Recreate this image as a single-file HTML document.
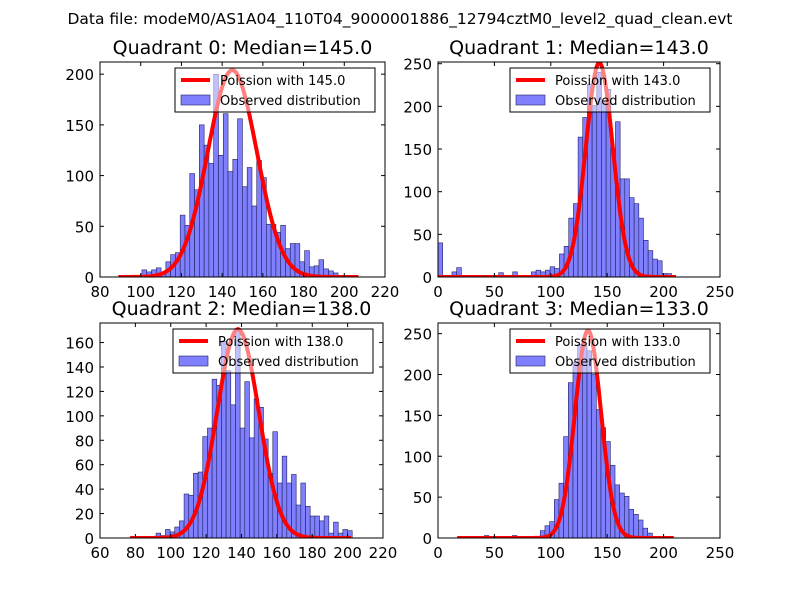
<!DOCTYPE html>
<html><head><meta charset="utf-8"><style>
body{margin:0;background:#fff;}
svg{display:block;font-family:"DejaVu Sans","Liberation Sans",sans-serif;}
</style></head><body>
<svg id="fig" width="800" height="600" xmlns="http://www.w3.org/2000/svg">
<rect width="800" height="600" fill="#fff"/>
<text x="400" y="24" text-anchor="middle" font-size="15.5">Data file: modeM0/AS1A04_110T04_9000001886_12794cztM0_level2_quad_clean.evt</text>
</svg>
<script>
// Quadrant 0 data
const q0Counts = [7,5,7,9,4,15,22,24,61,51,102,86,150,130,112,200,120,161,104,116,156,89,108,70,115,98,52,52,44,51,28,33,33,15,26,10,11,17,8,6,4,1];
const q0Start = 100.6, q0Width = 2.35, q0Median = 145.0, q0Peak = 204, q0CurveRange = [89, 207];
// Quadrant 1 data
const q1Counts = [40,2,2,6,11,0,0,0,2,0,0,0,0,5,2,0,6,0,0,0,6,8,6,8,12,10,27,36,69,86,164,187,226,201,240,204,220,150,182,115,115,93,86,69,43,31,21,19,4,4];
const q1Start = 0, q1Width = 4.14, q1Median = 143.0, q1Peak = 251, q1CurveRange = [0, 211];
// Quadrant 2 data
const q2Counts = [4,2,7,5,9,14,36,35,53,54,83,90,130,125,161,137,109,170,90,128,82,114,107,81,53,87,45,67,45,52,27,45,26,18,18,14,18,4,13,4,7,6];
const q2Start = 91.7, q2Width = 2.64, q2Median = 138.0, q2Peak = 171, q2CurveRange = [77, 202];
// Quadrant 3 data
const q3Counts = [3,0,0,0,1,0,3,0,0,0,1,0,9,15,20,47,67,124,190,215,237,235,229,200,157,135,118,89,65,55,51,35,29,22,12,6];
const q3Start = 41, q3Width = 4.14, q3Median = 133.0, q3Peak = 254, q3CurveRange = [17, 209];

const q0XTicks=[80,100,120,140,160,180,200,220], q0YTicks=[0,50,100,150,200];
const q1XTicks=[0,50,100,150,200,250], q1YTicks=[0,50,100,150,200,250];
const q2XTicks=[60,80,100,120,140,160,180,200,220], q2YTicks=[0,20,40,60,80,100,120,140,160];
const q3XTicks=[0,50,100,150,200,250], q3YTicks=[0,50,100,150,200,250];

const NS="http://www.w3.org/2000/svg";
const svg=document.getElementById('fig');
function mk(tag,attrs,parent){const e=document.createElementNS(NS,tag);for(const k in attrs)e.setAttribute(k,attrs[k]);(parent||svg).appendChild(e);return e;}

const panels=[
 {id:0,box:[100,62,385,277],xr:[80,220],yr:[0,212],counts:q0Counts,start:q0Start,w:q0Width,med:q0Median,peak:q0Peak,cr:q0CurveRange,xt:q0XTicks,yt:q0YTicks},
 {id:1,box:[438,62,720,277],xr:[0,250],yr:[0,252],counts:q1Counts,start:q1Start,w:q1Width,med:q1Median,peak:q1Peak,cr:q1CurveRange,xt:q1XTicks,yt:q1YTicks},
 {id:2,box:[100,323,383,538],xr:[60,220],yr:[0,176],counts:q2Counts,start:q2Start,w:q2Width,med:q2Median,peak:q2Peak,cr:q2CurveRange,xt:q2XTicks,yt:q2YTicks},
 {id:3,box:[438,323,720,538],xr:[0,250],yr:[0,263],counts:q3Counts,start:q3Start,w:q3Width,med:q3Median,peak:q3Peak,cr:q3CurveRange,xt:q3XTicks,yt:q3YTicks}
];

panels.forEach(p=>{
  const [L,T,R,B]=p.box;
  const sx=v=>L+(v-p.xr[0])/(p.xr[1]-p.xr[0])*(R-L);
  const sy=v=>B-(v-p.yr[0])/(p.yr[1]-p.yr[0])*(B-T);
  const g=mk('g',{});
  
  
  const clip=mk('clipPath',{id:'c'+p.id},g);mk('rect',{x:L,y:T,width:R-L,height:B-T},clip);
  const plot=mk('g',{'clip-path':'url(#c'+p.id+')'},g);
  p.counts.forEach((c,i)=>{
    if(c<=0)return;
    const x0=sx(p.start+i*p.w),x1=sx(p.start+(i+1)*p.w);
    const r=mk('rect',{x:x0,y:sy(c),width:x1-x0,height:sy(0)-sy(c),fill:'#8080ff','stroke':'#202060','stroke-width':0.6},plot);
    
    
  });
  let d='';
  const sig=Math.sqrt(p.med);
  for(let x=p.cr[0];x<=p.cr[1];x+=1){
    const v=p.peak*Math.exp(-0.5*Math.pow((x-p.med)/sig,2));
    d+=(d?'L':'M')+sx(x).toFixed(1)+','+sy(v).toFixed(1);
  }
  const cl=mk('path',{d:d,fill:'none',stroke:'#ff0000','stroke-width':4,'stroke-linejoin':'round'},plot);
  
  
  const lg=mk('g',{},g);
  
  
  const lx=R-210,ly=T+6;
  mk('rect',{x:lx,y:ly,width:200,height:44,fill:'#fff','fill-opacity':0.5,stroke:'#000','stroke-width':1},lg);
  mk('line',{x1:lx+6,y1:ly+12,x2:lx+35,y2:ly+12,stroke:'#ff0000','stroke-width':4},lg);
  const t1=mk('text',{x:lx+45,y:ly+17,'font-size':13},lg);t1.textContent='Poission with '+p.med.toFixed(1);
  
  
  mk('rect',{x:lx+6,y:ly+27,width:29,height:10,fill:'#8080ff',stroke:'#202060','stroke-width':0.6},lg);
  const t2=mk('text',{x:lx+45,y:ly+37,'font-size':13},lg);t2.textContent='Observed distribution';
  
  
  mk('rect',{x:L,y:T,width:R-L,height:B-T,fill:'none',stroke:'#000','stroke-width':1},g);
  p.xt.forEach(v=>{
    const x=sx(v);
    mk('line',{x1:x,y1:B,x2:x,y2:B-4,stroke:'#000'},g);
    mk('line',{x1:x,y1:T,x2:x,y2:T+4,stroke:'#000'},g);
    const t=mk('text',{x:x,y:B+20,'font-size':15,'text-anchor':'middle'},g);t.textContent=v;
    
    
  });
  p.yt.forEach(v=>{
    const y=sy(v);
    mk('line',{x1:L,y1:y,x2:L+4,y2:y,stroke:'#000'},g);
    mk('line',{x1:R,y1:y,x2:R-4,y2:y,stroke:'#000'},g);
    const t=mk('text',{x:L-6,y:y+6,'font-size':15,'text-anchor':'end'},g);t.textContent=v;
    
    
  });
  const tt=mk('text',{x:(L+R)/2,y:T-8,'font-size':19,'text-anchor':'middle'},g);
  tt.textContent='Quadrant '+p.id+': Median='+p.med.toFixed(1);
  
  
});
</script>
</body></html>
